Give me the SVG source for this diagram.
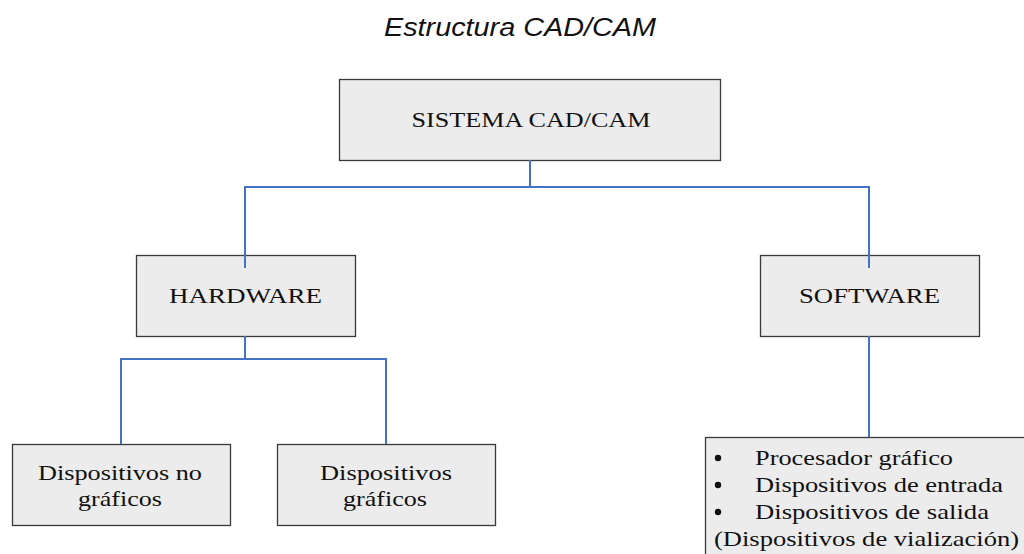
<svg xmlns="http://www.w3.org/2000/svg" width="1024" height="554" viewBox="0 0 1024 554">
  <style>
    .box { fill: #ececec; stroke: #3a3a3a; stroke-width: 1.3; }
    .lbl { font-family: "Liberation Serif", "Times New Roman", serif; font-size: 22px; fill: #111; }
    .mid { text-anchor: middle; }
    .title { font-family: "Liberation Sans", Arial, sans-serif; font-style: italic; font-size: 26px; fill: #111; text-anchor: middle; }
    .link { fill: none; stroke: #4472c4; stroke-width: 2; }
  </style>
  <rect width="1024" height="554" fill="#ffffff"/>

  <text class="title" x="520" y="36" textLength="272" lengthAdjust="spacingAndGlyphs">Estructura CAD/CAM</text>

  <g id="sistema">
    <rect class="box" x="339.5" y="79.5" width="381" height="81"/>
    <text class="lbl mid" x="531" y="127" textLength="239" lengthAdjust="spacingAndGlyphs">SISTEMA CAD/CAM</text>
  </g>

  <g id="hardware">
    <rect class="box" x="136.5" y="255.5" width="219" height="81"/>
    <text class="lbl mid" x="245.5" y="303" textLength="153" lengthAdjust="spacingAndGlyphs">HARDWARE</text>
  </g>

  <g id="software">
    <rect class="box" x="760.5" y="255.5" width="219" height="81"/>
    <text class="lbl mid" x="869.5" y="303" textLength="141" lengthAdjust="spacingAndGlyphs">SOFTWARE</text>
  </g>

  <g id="no-graficos">
    <rect class="box" x="12.5" y="444.5" width="218" height="81"/>
    <text class="lbl mid" x="120" y="480" textLength="164" lengthAdjust="spacingAndGlyphs">Dispositivos no</text>
    <text class="lbl mid" x="120" y="506" textLength="84" lengthAdjust="spacingAndGlyphs">gráficos</text>
  </g>

  <g id="graficos">
    <rect class="box" x="277.5" y="444.5" width="218" height="81"/>
    <text class="lbl mid" x="386" y="480" textLength="132" lengthAdjust="spacingAndGlyphs">Dispositivos</text>
    <text class="lbl mid" x="385" y="506" textLength="84" lengthAdjust="spacingAndGlyphs">gráficos</text>
  </g>

  <g id="software-items">
    <rect class="box" x="705.5" y="437.5" width="330" height="130"/>
    <circle cx="718" cy="458" r="3.2" fill="#111"/>
    <circle cx="718" cy="485" r="3.2" fill="#111"/>
    <circle cx="718" cy="512" r="3.2" fill="#111"/>
    <text class="lbl" x="755" y="465" textLength="198" lengthAdjust="spacingAndGlyphs">Procesador gráfico</text>
    <text class="lbl" x="755" y="492" textLength="248" lengthAdjust="spacingAndGlyphs">Dispositivos de entrada</text>
    <text class="lbl" x="755" y="519" textLength="234" lengthAdjust="spacingAndGlyphs">Dispositivos de salida</text>
    <text class="lbl" x="714" y="546" textLength="305" lengthAdjust="spacingAndGlyphs">(Dispositivos de vialización)</text>
  </g>

  <g id="connectors">
    <path class="link" d="M530 160 V187 M245 187 H869 M245 186 V268 M869 186 V268"/>
    <path class="link" d="M245 336 V359 M121 359 H386 M121 358 V444 M386 358 V444"/>
    <path class="link" d="M869 336 V437"/>
  </g>
</svg>
